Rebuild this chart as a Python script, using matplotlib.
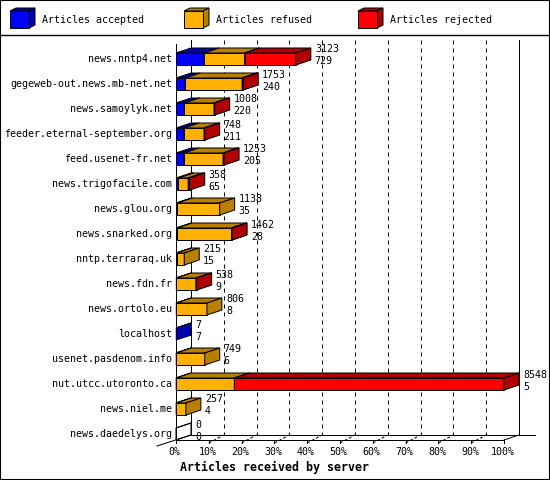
import numpy as np
import matplotlib
matplotlib.use('Agg')
import matplotlib.pyplot as plt
from matplotlib.patches import Polygon, Rectangle

# data
hosts = ['news.nntp4.net', 'gegeweb-out.news.mb-net.net', 'news.samoylyk.net',
         'feeder.eternal-september.org', 'feed.usenet-fr.net', 'news.trigofacile.com',
         'news.glou.org', 'news.snarked.org', 'nntp.terraraq.uk', 'news.fdn.fr',
         'news.ortolo.eu', 'localhost', 'usenet.pasdenom.info', 'nut.utcc.utoronto.ca',
         'news.niel.me', 'news.daedelys.org']
offered = np.array([3123, 1753, 1008, 748, 1253, 358, 1138, 1462, 215, 538, 806, 7, 749, 8548, 257, 0])
accepted = np.array([729, 240, 220, 211, 205, 65, 35, 28, 15, 9, 8, 7, 6, 5, 4, 0])
refused = np.array([1060, 1483, 770, 520, 1020, 253, 1103, 1419, 200, 509, 798, 0, 743, 1515, 253, 0])
rejected = np.array([1334, 30, 18, 17, 28, 40, 0, 15, 0, 20, 0, 0, 0, 7028, 0, 0])

series_names = ['Articles accepted', 'Articles refused', 'Articles rejected']
front_colors = ['#0000ff', '#ffb000', '#ff0000']
dark_colors = ['#0000b0', '#b88000', '#b00000']
pct_ticks = list(range(0, 101, 10))
xlabel = 'Articles received by server'

W, H = 550, 480
FONT = 'DejaVu Sans Mono'
LW = 0.72

fig = plt.figure(figsize=(W / 100, H / 100), dpi=100)
ax = fig.add_axes([0, 0, 1, 1])
ax.axis('off')

# pixel layout -> data units (x in percent, y in rows)
X0_PX, PCT_PX, ROW0_PX, ROW_PX = 176, 3.28, 59, 25
ax.set_xlim(-X0_PX / PCT_PX, (W - X0_PX) / PCT_PX)
ax.set_ylim((H - ROW0_PX) / ROW_PX, -ROW0_PX / ROW_PX)


def px_x(px):
    return (px - X0_PX) / PCT_PX


def px_y(py):
    return (py - ROW0_PX) / ROW_PX


DX = 15 / PCT_PX
DY = 5 / ROW_PX
BAR_H = 12 / ROW_PX

rows = np.arange(len(hosts))
scale = 100.0 / offered.max()

# back wall, grid, floor
top_back = px_y(40)
floor_back = px_y(435)
floor_front = px_y(440)
for p in pct_ticks[1:-1]:
    ax.plot([p + DX, p + DX], [top_back, floor_back], color='black', lw=LW,
            ls=(0, (4, 4)), zorder=1)
    ax.plot([p, p + DX], [px_y(443), floor_back], color='black', lw=LW,
            ls=(0, (3, 2)), zorder=1)
ax.plot([DX, DX], [top_back, floor_back], color='black', lw=LW, zorder=1)
ax.plot([100 + DX, 100 + DX], [top_back, floor_back], color='black', lw=LW, zorder=1)
ax.plot([DX, px_x(535)], [floor_back, floor_back], color='black', lw=LW, zorder=1)
ax.plot([0, 100], [floor_front, floor_front], color='black', lw=LW, zorder=1)
ax.plot([100, 100 + DX], [floor_front, floor_back], color='black', lw=LW, zorder=1)
ax.plot([px_x(157), DX], [px_y(446), floor_back], color='black', lw=LW, zorder=1)
ax.plot([0, 0], [px_y(44), floor_front], color='black', lw=LW, zorder=1)
for p in pct_ticks:
    ax.plot([p, p], [floor_front, px_y(443)], color='black', lw=LW, zorder=1)
    ax.text(p - 0.4, px_y(452), f'{p}%', ha='center', va='center',
            fontsize=7.2, family=FONT)
ax.text(px_x(180), px_y(467), xlabel, ha='left', va='center', fontsize=8.4,
        family=FONT, fontweight='bold')


def box_faces(x0, x1, r, dark, z, face_top=True):
    yt, yb = r - BAR_H / 2, r + BAR_H / 2
    top = Polygon([(x0, yt), (x1, yt), (x1 + DX, yt - DY), (x0 + DX, yt - DY)],
                  closed=True, fc=dark if face_top else 'none', ec='black', lw=LW, zorder=z)
    side = Polygon([(x1, yt), (x1, yb), (x1 + DX, yb - DY), (x1 + DX, yt - DY)],
                   closed=True, fc=dark if face_top else 'none', ec='black', lw=LW, zorder=z)
    ax.add_patch(top)
    ax.add_patch(side)


# stacked 3d bars
left = np.zeros(len(hosts))
for k, (vals, fc, dc) in enumerate(zip([accepted, refused, rejected], front_colors, dark_colors)):
    w = vals * scale
    m = vals > 0
    ax.barh(rows[m], w[m], left=left[m], height=BAR_H, color=fc, edgecolor='black',
            linewidth=LW, zorder=3 + k)
    for r in rows[m]:
        box_faces(left[r], left[r] + w[r], r, dc, 3 + k)
    left = left + w

for r in rows[offered == 0]:
    box_faces(0, 0, r, 'none', 3, face_top=False)

# labels
for r in rows:
    ax.text(px_x(172), r, hosts[r], ha='right', va='center', fontsize=7.2, family=FONT)
    xe = offered[r] * scale + DX + 4 / PCT_PX
    ax.text(xe, r - 0.38, str(offered[r]), ha='left', va='center', fontsize=7.2, family=FONT)
    ax.text(xe, r + 0.1, str(accepted[r]), ha='left', va='center', fontsize=7.2, family=FONT)

# legend
lx = [10, 184, 358]
for x, name, fc, dc in zip(lx, series_names, front_colors, dark_colors):
    x0, x1 = px_x(x), px_x(x + 19)
    yt, yb = px_y(11), px_y(28)
    ddx, ddy = 6 / PCT_PX, 3 / ROW_PX
    ax.add_patch(Polygon([(x0, yt), (x1, yt), (x1 + ddx, yt - ddy), (x0 + ddx, yt - ddy)],
                         fc=dc, ec='black', lw=LW, zorder=5))
    ax.add_patch(Polygon([(x1, yt), (x1, yb), (x1 + ddx, yb - ddy), (x1 + ddx, yt - ddy)],
                         fc=dc, ec='black', lw=LW, zorder=5))
    ax.add_patch(Rectangle((x0, yt), x1 - x0, yb - yt, fc=fc, ec='black', lw=LW, zorder=6))
    ax.text(px_x(x + 32), px_y(20), name, ha='left', va='center', fontsize=7.2, family=FONT)

ax.axhline(px_y(35), color='black', lw=1.0)
fig.patches.append(Rectangle((0, 0), 1, 1, transform=fig.transFigure, fill=False,
                             ec='black', lw=1.5))

fig.savefig('out.png', dpi=100)
